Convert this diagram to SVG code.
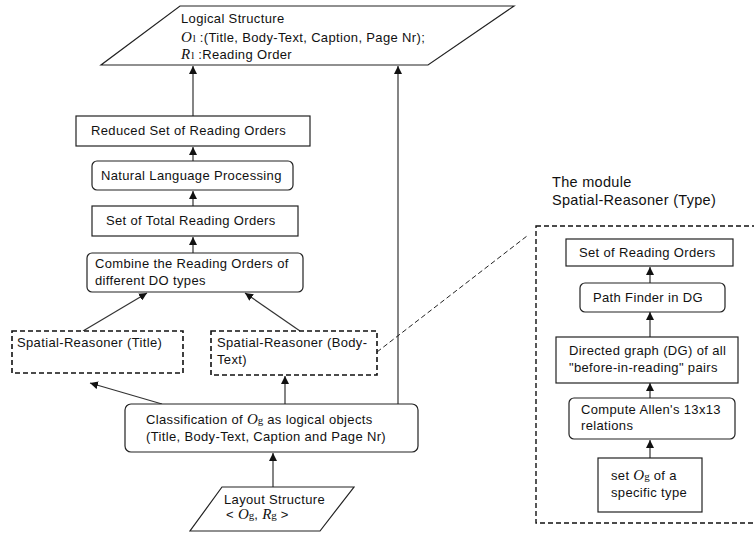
<svg xmlns="http://www.w3.org/2000/svg" width="754" height="533" viewBox="0 0 754 533">
<style>
text{font-family:"Liberation Sans",Arial,sans-serif;font-size:13px;fill:#111;letter-spacing:0.35px}
.t{font-size:14.5px;letter-spacing:0.3px}
.m{font-family:"Liberation Serif","Times New Roman",serif;font-style:italic;font-size:15px;letter-spacing:0}
.s{font-family:"Liberation Serif","Times New Roman",serif;font-size:11px;letter-spacing:0}
.b{fill:#fff;stroke:#222;stroke-width:1.2}
.d{fill:#fff;stroke:#111;stroke-width:1.6;stroke-dasharray:5,3}
.c{stroke:#333;stroke-width:1.2;fill:none;marker-end:url(#a)}
</style>
<defs>
<marker id="a" viewBox="0 0 10 10" refX="10" refY="5" markerWidth="8" markerHeight="8" markerUnits="userSpaceOnUse" orient="auto">
<path d="M0,0 L10,5 L0,10 z" fill="#111"/>
</marker>
</defs>
<g id="module">
<text class="t" x="552" y="187">The module</text>
<text class="t" x="552" y="205">Spatial-Reasoner (Type)</text>
<rect x="536" y="226" width="224" height="297" fill="none" stroke="#111" stroke-width="1.4" stroke-dasharray="5,3"/>
</g>
<g id="connectors">
<line class="c" x1="193" y1="116" x2="193" y2="66"/>
<line class="c" x1="398" y1="404" x2="398" y2="66"/>
<line class="c" x1="193" y1="161" x2="193" y2="147"/>
<line class="c" x1="193" y1="206" x2="193" y2="191"/>
<line class="c" x1="193" y1="253" x2="193" y2="237"/>
<line class="c" x1="83" y1="331" x2="147" y2="293"/>
<line class="c" x1="300" y1="331" x2="245" y2="293"/>
<line class="c" x1="162" y1="404" x2="90" y2="383"/>
<line class="c" x1="285" y1="404" x2="285" y2="376"/>
<line class="c" x1="273" y1="487" x2="273" y2="453"/>
<line x1="377" y1="352" x2="527" y2="236" stroke="#222" stroke-width="1" stroke-dasharray="5,3"/>
<line class="c" x1="650" y1="283" x2="650" y2="267"/>
<line class="c" x1="650" y1="337" x2="650" y2="312"/>
<line class="c" x1="650" y1="398" x2="650" y2="383"/>
<line class="c" x1="650" y1="458" x2="650" y2="440"/>
</g>
<g id="logical">
<polygon class="b" points="180,6 514,6 428,65 101,65"/>
<text x="181" y="23">Logical Structure</text>
<text x="181" y="42"><tspan class="m">O</tspan><tspan class="s" dx="1">l</tspan> :(Title, Body-Text, Caption, Page Nr);</text>
<text x="181" y="59"><tspan class="m">R</tspan><tspan class="s" dx="1">l</tspan> :Reading Order</text>
</g>
<g id="reduced">
<rect class="b" x="76" y="116" width="234" height="30"/>
<text x="91" y="135">Reduced Set of Reading Orders</text>
</g>
<g id="nlp">
<rect class="b" x="92" y="161" width="201" height="29" rx="5"/>
<text x="101" y="180">Natural Language Processing</text>
</g>
<g id="total">
<rect class="b" x="92" y="206" width="206" height="30"/>
<text x="106" y="225">Set of Total Reading Orders</text>
</g>
<g id="combine">
<rect class="b" x="87" y="253" width="216" height="39" rx="5"/>
<text x="95" y="268">Combine the Reading Orders of</text>
<text x="95" y="285">different DO types</text>
</g>
<g id="sr-title">
<rect class="d" x="12" y="331" width="171" height="42"/>
<text x="17" y="347">Spatial-Reasoner (Title)</text>
</g>
<g id="sr-body">
<rect class="d" x="211" y="331" width="166" height="44"/>
<text x="217" y="347">Spatial-Reasoner (Body-</text>
<text x="217" y="364">Text)</text>
</g>
<g id="classification">
<rect class="b" x="125" y="404" width="293" height="48" rx="6"/>
<text x="146" y="424">Classification of <tspan class="m">O</tspan><tspan class="s">g</tspan> as logical objects</text>
<text x="146" y="441">(Title, Body-Text, Caption and Page Nr)</text>
</g>
<g id="layout">
<polygon class="b" points="222,487 354,487 320,531 190,531"/>
<text x="224" y="504">Layout Structure</text>
<text x="226" y="519">&lt; <tspan class="m">O</tspan><tspan class="s">g</tspan>, <tspan class="m">R</tspan><tspan class="s">g</tspan> &gt;</text>
</g>
<g id="set-ro">
<rect class="b" x="566" y="239" width="167" height="27"/>
<text x="579" y="257">Set of Reading Orders</text>
</g>
<g id="pathfinder">
<rect class="b" x="580" y="283" width="145" height="29" rx="5"/>
<text x="593" y="302">Path Finder in DG</text>
</g>
<g id="dg">
<rect class="b" x="556" y="337" width="182" height="46"/>
<text x="569" y="355">Directed graph (DG) of all</text>
<text x="569" y="372">"before-in-reading" pairs</text>
</g>
<g id="allen">
<rect class="b" x="569" y="398" width="166" height="41" rx="5"/>
<text x="581" y="414">Compute Allen's 13x13</text>
<text x="581" y="430">relations</text>
</g>
<g id="set-og">
<rect class="b" x="598" y="458" width="104" height="54"/>
<text x="611" y="480">set <tspan class="m">O</tspan><tspan class="s">g</tspan> of a</text>
<text x="611" y="497">specific type</text>
</g>
</svg>
